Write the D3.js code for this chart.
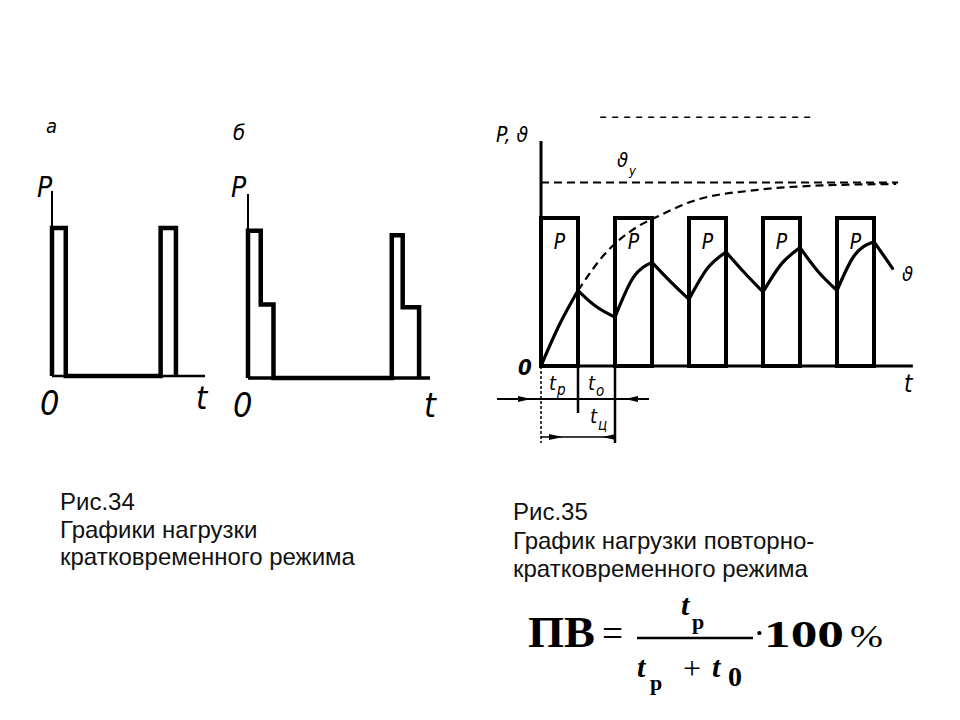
<!DOCTYPE html>
<html>
<head>
<meta charset="utf-8">
<script src="https://cdn.jsdelivr.net/npm/d3@7"></script>
<style>
  body { margin: 0; background: #ffffff; }
  svg { display: block; }
</style>
</head>
<body>
<script>
// Рис.34 а - load pulses [t, P]
const loadA = [[0, 0], [0, 1], [0.9, 1], [0.9, 0], [7.1, 0], [7.1, 1], [8.1, 1], [8.1, 0]];
// Рис.34 б - stepped pulses [t, P]
const loadB = [[0, 0], [0, 1], [0.7, 1], [0.7, 0.5], [1.4, 0.5], [1.4, 0],
               [7.9, 0], [7.9, 0.97], [8.5, 0.97], [8.5, 0.48], [9.4, 0.48], [9.4, 0]];

// Рис.35 - working periods (start, end) and load level
const pulseStart = [0, 2, 4, 6, 8];
const pulseEnd = [1, 3, 5, 7, 9];
const pulseP = 1;
// temperature rise ϑ (corner, middle, corner, ...)
const thetaT = [0, 0.5, 1, 1.5, 2, 2.5, 3, 3.5, 4, 4.5, 5, 5.5, 6, 6.5, 7, 7.5, 8, 8.45, 9, 9.25, 9.5];
const thetaV = [0, 0.28, 0.51, 0.40, 0.33, 0.60, 0.70, 0.57, 0.45, 0.66, 0.77, 0.63, 0.50, 0.69, 0.80, 0.635, 0.51, 0.74, 0.84, 0.75, 0.66];
// continuous heating curve (dashed)
const heatT = [1, 1.7, 2.6, 3.15, 4.05, 5.85, 7.6, 9.6];
const heatV = [0.51, 0.75, 0.94, 1.01, 1.11, 1.19, 1.22, 1.23];
const thetaSteady = 1.24;

const svg = d3.select('body').append('svg')
  .attr('width', 960)
  .attr('height', 720);

const hand = '"Liberation Sans Narrow", "DejaVu Sans Condensed", sans-serif';
const serif = '"Liberation Serif", "DejaVu Serif", serif';

function label(x, y, txt, size, opts) {
  opts = opts || {};
  return svg.append('text')
    .attr('x', x)
    .attr('y', y)
    .style('font-family', opts.family || hand)
    .style('font-size', size + 'px')
    .style('font-style', opts.italic === false ? 'normal' : 'italic')
    .style('font-weight', opts.bold ? 'bold' : 'normal')
    .style('fill', '#000')
    .text(txt);
}

let lineGenerator = d3.line();

// ---------- Рис.34 а ----------
let xa = d3.scaleLinear().domain([0, 10]).range([52, 205]);
let ya = d3.scaleLinear().domain([0, 1.25]).range([376, 191]);

svg.append('path')
  .attr('d', lineGenerator([[xa(0), ya(0)], [xa(0), ya(1.25)]]))
  .attr('stroke', '#000').attr('stroke-width', 2);
svg.append('path')
  .attr('d', lineGenerator([[xa(0), ya(0)], [xa(10), ya(0)]]))
  .attr('stroke', '#000').attr('stroke-width', 2.5);
svg.append('path')
  .attr('d', d3.line().x(d => xa(d[0])).y(d => ya(d[1]))(loadA))
  .attr('fill', 'none').attr('stroke', '#000').attr('stroke-width', 4.5)
  .attr('stroke-linejoin', 'miter');

label(46, 133, 'а', 20);
label(37, 197, 'P', 28);
label(40, 415, '0', 34);
label(196, 409, 't', 32);

// ---------- Рис.34 б ----------
let xb = d3.scaleLinear().domain([0, 10]).range([248, 430]);
let yb = d3.scaleLinear().domain([0, 1.25]).range([378, 194]);

svg.append('path')
  .attr('d', lineGenerator([[xb(0), yb(0)], [xb(0), yb(1.25)]]))
  .attr('stroke', '#000').attr('stroke-width', 2);
svg.append('path')
  .attr('d', lineGenerator([[xb(0), yb(0)], [xb(10), yb(0)]]))
  .attr('stroke', '#000').attr('stroke-width', 3.5);
svg.append('path')
  .attr('d', d3.line().x(d => xb(d[0])).y(d => yb(d[1]))(loadB))
  .attr('fill', 'none').attr('stroke', '#000').attr('stroke-width', 4.5);

label(233, 140, 'б', 22);
label(231, 197, 'P', 28);
label(233, 417, '0', 34);
label(424, 417, 't', 34);

// ---------- Рис.35 ----------
let x = d3.scaleLinear().domain([0, 10]).range([541, 911]);
let y = d3.scaleLinear().domain([0, 1.6]).range([366, 129.2]);

// faint dashed line at the top of the scan
svg.append('path')
  .attr('d', lineGenerator([[x(1.6), y(1.68)], [x(7.4), y(1.68)]]))
  .attr('stroke', '#000').attr('stroke-width', 1.5)
  .attr('stroke-dasharray', '6,6');

// axes
svg.append('path')
  .attr('d', lineGenerator([[x(0), y(0)], [x(0), y(1.52)]]))
  .attr('stroke', '#000').attr('stroke-width', 3);
svg.append('path')
  .attr('d', lineGenerator([[x(0), y(0)], [x(10.05), y(0)]]))
  .attr('stroke', '#000').attr('stroke-width', 3);

// steady temperature
svg.append('path')
  .attr('d', lineGenerator([[x(0), y(thetaSteady)], [x(9.65), y(thetaSteady)]]))
  .attr('stroke', '#000').attr('stroke-width', 2)
  .attr('stroke-dasharray', '8,5');

// heating curve (dashed)
svg.append('path')
  .attr('d', d3.line().curve(d3.curveMonotoneX)
    .x((d, i) => x(heatT[i])).y(d => y(d))(heatV))
  .attr('fill', 'none').attr('stroke', '#000').attr('stroke-width', 2.2)
  .attr('stroke-dasharray', '8,5');

// working periods P
svg.selectAll('rect.pulse')
  .data(pulseStart)
  .enter().append('rect')
  .attr('class', 'pulse')
  .attr('x', d => x(d))
  .attr('y', y(pulseP))
  .attr('width', (d, i) => x(pulseEnd[i]) - x(d))
  .attr('height', y(0) - y(pulseP))
  .attr('fill', 'none')
  .attr('stroke', '#000')
  .attr('stroke-width', 4);

svg.selectAll('text.p')
  .data(pulseStart)
  .enter().append('text')
  .attr('class', 'p')
  .attr('x', (d, i) => (x(d) + x(pulseEnd[i])) / 2)
  .attr('y', 249)
  .attr('text-anchor', 'middle')
  .style('font-family', hand)
  .style('font-size', '21px')
  .style('font-style', 'italic')
  .text('P');

// temperature ϑ: one smooth piece per heating / cooling interval
let segs = [];
for (let i = 0; i + 2 < thetaT.length; i += 2) {
  segs.push([0, 1, 2].map(k => [thetaT[i + k], thetaV[i + k]]));
}
svg.selectAll('path.theta')
  .data(segs)
  .enter().append('path')
  .attr('class', 'theta')
  .attr('d', d3.line().curve(d3.curveMonotoneX).x(d => x(d[0])).y(d => y(d[1])))
  .attr('fill', 'none')
  .attr('stroke', '#000')
  .attr('stroke-width', 3.2)
  .attr('stroke-linecap', 'round');

// dimension lines t_р, t_о, t_ц
svg.append('path')
  .attr('d', lineGenerator([[x(0), y(0)], [x(0), y(0) + 77]]))
  .attr('stroke', '#000').attr('stroke-width', 1.5)
  .attr('stroke-dasharray', '3,2');
svg.append('path')
  .attr('d', lineGenerator([[x(1), y(0)], [x(1), y(0) + 47]]))
  .attr('stroke', '#000').attr('stroke-width', 2.5);
svg.append('path')
  .attr('d', lineGenerator([[x(2), y(0)], [x(2), y(0) + 77]]))
  .attr('stroke', '#000').attr('stroke-width', 2.5);
svg.append('path')
  .attr('d', lineGenerator([[x(0) - 44, y(0) + 33], [x(2) + 34, y(0) + 33]]))
  .attr('stroke', '#000').attr('stroke-width', 2);
svg.append('path')
  .attr('d', lineGenerator([[x(0), y(0) + 71], [x(2), y(0) + 71]]))
  .attr('stroke', '#000').attr('stroke-width', 1.5);

function arrow(tipX, tipY, dir, len) {
  svg.append('path')
    .attr('d', lineGenerator([[tipX, tipY], [tipX - dir * len, tipY - 3], [tipX - dir * len, tipY + 3]]) + 'Z')
    .attr('fill', '#000');
}
arrow(x(0) - 10, y(0) + 33, 1, 13);
arrow(x(2) + 10, y(0) + 33, -1, 13);
arrow(x(0) + 22, y(0) + 71, 1, 14);
arrow(x(2) - 13, y(0) + 71, -1, 14);

label(496, 142, 'P, ϑ', 21);
label(617, 167, 'ϑ', 20);
label(629, 175, 'у', 13);
label(902, 281, 'ϑ', 20);
label(518, 375, '0', 22, { bold: true });
label(904, 392, 't', 24);
label(549, 390, 't', 20);
label(557, 395, 'р', 15);
label(588, 390, 't', 20);
label(596, 396, 'о', 15);
label(590, 423, 't', 20);
label(598, 430, 'ц', 15);

// ---------- captions ----------
const cap = '"Liberation Sans", Arial, sans-serif';
const leftCaption = ['Рис.34', 'Графики нагрузки', 'кратковременного режима'];
const rightCaption = ['Рис.35', 'График нагрузки повторно-', 'кратковременного режима'];
const leftBase = [510, 538, 565];
const rightBase = [520, 549, 577];

leftCaption.forEach((s, i) => label(60, leftBase[i], s, 24, { family: cap, italic: false }).style('fill', '#111'));
rightCaption.forEach((s, i) => label(513, rightBase[i], s, 24, { family: cap, italic: false }).style('fill', '#111'));

// ---------- formula ПВ ----------
label(528, 647, 'ПВ', 44, { family: serif, italic: false, bold: true })
  .attr('textLength', 67).attr('lengthAdjust', 'spacingAndGlyphs');
label(602, 647, '=', 40, { family: serif, italic: false })
  .attr('textLength', 21).attr('lengthAdjust', 'spacingAndGlyphs');
svg.append('path')
  .attr('d', lineGenerator([[637, 638], [753, 638]]))
  .attr('stroke', '#000').attr('stroke-width', 2.5);
label(681, 615, 't', 30, { family: serif, bold: true });
label(692, 629, 'р', 22, { family: serif, italic: false, bold: true });
label(637, 677, 't', 30, { family: serif, bold: true });
label(650, 690, 'р', 22, { family: serif, italic: false, bold: true });
label(683, 679, '+', 32, { family: serif, italic: false });
label(712, 677, 't', 30, { family: serif, bold: true });
label(728, 686, '0', 28, { family: serif, italic: false, bold: true });
label(755, 641, '·', 26, { family: serif, italic: false, bold: true });
label(764, 647, '100', 38, { family: serif, italic: false, bold: true })
  .attr('textLength', 80).attr('lengthAdjust', 'spacingAndGlyphs');
label(850, 647, '%', 32, { family: serif, italic: false })
  .attr('textLength', 33).attr('lengthAdjust', 'spacingAndGlyphs');
</script>
</body>
</html>
